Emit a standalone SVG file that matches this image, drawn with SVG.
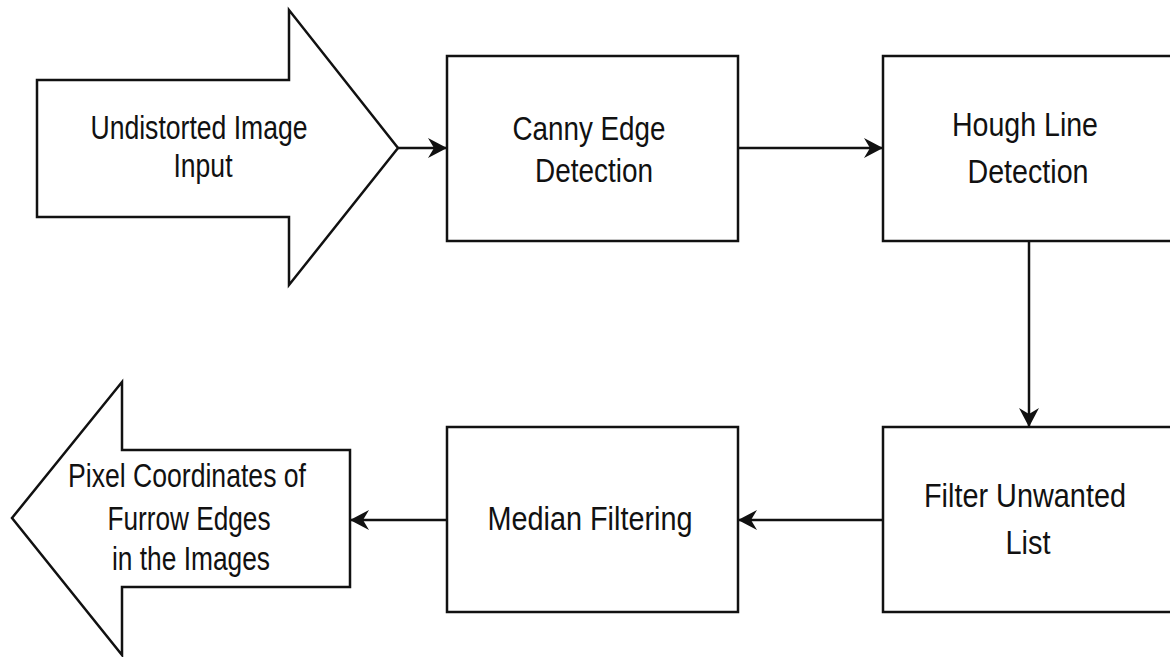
<svg xmlns="http://www.w3.org/2000/svg" width="1170" height="657" viewBox="0 0 1170 657">
  <style>
    .shape { fill: #ffffff; stroke: #111111; stroke-width: 2.5; stroke-linejoin: miter; }
    .edge { fill: none; stroke: #111111; stroke-width: 2.5; }
    .label { font-family: "Liberation Sans", Arial, sans-serif; font-size: 34px; fill: #111111; text-anchor: middle; }
  </style>
  <defs>
    <marker id="head" markerUnits="userSpaceOnUse" markerWidth="24" markerHeight="24" viewBox="-21 -12 24 24" refX="0" refY="0" orient="auto">
      <path d="M0,0 L-19,-10 L-13,0 L-19,10 Z" fill="#111111" stroke="none"/>
    </marker>
  </defs>

  <rect width="1170" height="657" fill="#ffffff"/>

  <!-- connectors -->
  <g id="connectors">
    <line class="edge" x1="398" y1="148" x2="447" y2="148" marker-end="url(#head)"/>
    <line class="edge" x1="738" y1="148" x2="883" y2="148" marker-end="url(#head)"/>
    <line class="edge" x1="1029" y1="241" x2="1029" y2="427" marker-end="url(#head)"/>
    <line class="edge" x1="883" y1="520" x2="738" y2="520" marker-end="url(#head)"/>
    <line class="edge" x1="447" y1="520" x2="350" y2="520" marker-end="url(#head)"/>
  </g>

  <!-- input arrow -->
  <g id="input">
    <polygon class="shape" points="37,80 289,80 289,10 398,148 289,285 289,217 37,217"/>
    <text class="label" x="199" y="139" textLength="217" lengthAdjust="spacingAndGlyphs">Undistorted Image</text>
    <text class="label" x="203" y="177" textLength="59" lengthAdjust="spacingAndGlyphs">Input</text>
  </g>

  <!-- processing steps -->
  <g id="canny">
    <rect class="shape" x="447" y="56" width="291" height="185"/>
    <text class="label" x="589" y="140" textLength="153" lengthAdjust="spacingAndGlyphs">Canny Edge</text>
    <text class="label" x="594" y="182" textLength="118" lengthAdjust="spacingAndGlyphs">Detection</text>
  </g>

  <g id="hough">
    <rect class="shape" x="883" y="56" width="300" height="185"/>
    <text class="label" x="1025" y="136" textLength="146" lengthAdjust="spacingAndGlyphs">Hough Line</text>
    <text class="label" x="1028" y="183" textLength="121" lengthAdjust="spacingAndGlyphs">Detection</text>
  </g>

  <g id="filter">
    <rect class="shape" x="883" y="427" width="300" height="185"/>
    <text class="label" x="1025" y="507" textLength="202" lengthAdjust="spacingAndGlyphs">Filter Unwanted</text>
    <text class="label" x="1028" y="554" textLength="45" lengthAdjust="spacingAndGlyphs">List</text>
  </g>

  <g id="median">
    <rect class="shape" x="447" y="427" width="291" height="185"/>
    <text class="label" x="590" y="530" textLength="205" lengthAdjust="spacingAndGlyphs">Median Filtering</text>
  </g>

  <!-- output arrow -->
  <g id="output">
    <polygon class="shape" points="350,450 122,450 122,382 12,518 122,655 122,587 350,587"/>
    <text class="label" x="187" y="487" textLength="238" lengthAdjust="spacingAndGlyphs">Pixel Coordinates of</text>
    <text class="label" x="189" y="530" textLength="163" lengthAdjust="spacingAndGlyphs">Furrow Edges</text>
    <text class="label" x="191" y="570" textLength="158" lengthAdjust="spacingAndGlyphs">in the Images</text>
  </g>
</svg>
